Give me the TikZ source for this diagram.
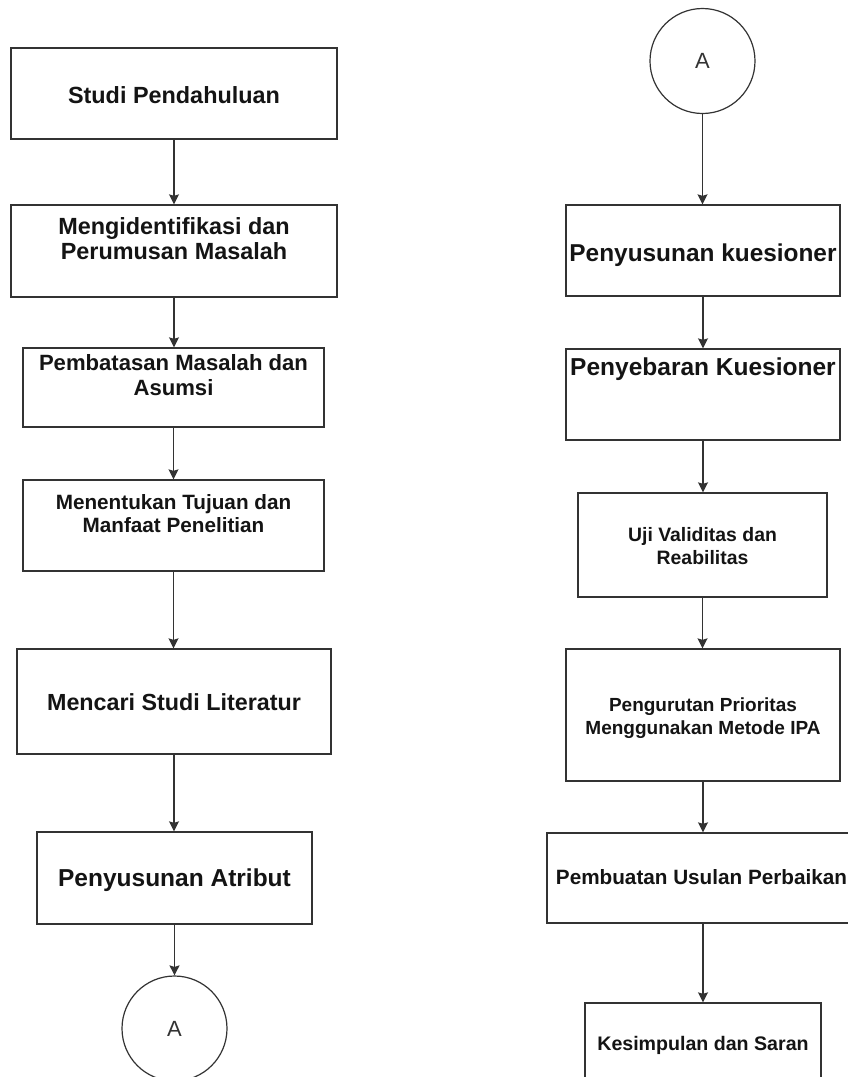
\documentclass[tikz,border=0pt]{standalone}
\usepackage{fontspec}
\setmainfont{Liberation Sans}
\usetikzlibrary{arrows.meta}
\definecolor{linegray}{HTML}{333333}
\definecolor{textblack}{HTML}{141414}
\newcommand\tsz[2]{\fontsize{#1}{#2}\selectfont\bfseries}
\begin{document}
\begin{tikzpicture}[x=1pt,y=-1pt,
  box/.style={draw=linegray, line width=1.3pt, rectangle, inner sep=0pt, fill=white},
  lbl/.style={inner sep=0pt, align=center, text=textblack},
  conn/.style={circle, draw=linegray, line width=1.2pt, inner sep=0pt, minimum size=105pt, fill=white},
  arr/.style={draw=linegray, line width=1.3pt, -{Stealth[length=10pt,width=10pt,inset=1.5pt]}},
]
\useasboundingbox (0,0) rectangle (848,1077);
\clip (0,0) rectangle (848,1077);
\fill[white] (0,0) rectangle (848,1077);

% left column
\node[box, minimum width=326pt, minimum height=91pt] (b1) at (174,93.5) {};
\node[box, minimum width=326pt, minimum height=92pt] (b2) at (174,251) {};
\node[box, minimum width=301pt, minimum height=79pt] (b3) at (173.5,387.5) {};
\node[box, minimum width=301pt, minimum height=91pt] (b4) at (173.5,525.5) {};
\node[box, minimum width=314pt, minimum height=105pt] (b5) at (174,701.5) {};
\node[box, minimum width=275pt, minimum height=92pt] (b6) at (174.5,878) {};
\node[conn] (cl) at (174.5,1028.5) {};

\node[lbl, font=\tsz{23.4}{25}] (t1) at (174,95) {Studi Pendahuluan};
\node[lbl, font=\tsz{23.4}{25}] (t2) at (174,238.5) {Mengidentifikasi dan\\Perumusan Masalah};
\node[lbl, font=\tsz{22.1}{25}] (t3) at (173.5,375.5) {Pembatasan Masalah dan\\Asumsi};
\node[lbl, font=\tsz{20.7}{23}] (t4) at (173.5,513.5) {Menentukan Tujuan dan\\Manfaat Penelitian};
\node[lbl, font=\tsz{23.3}{25}] (t5) at (174,702) {Mencari Studi Literatur};
\node[lbl, font=\tsz{24.5}{26}] (t6) at (174.5,880.5) {Penyusunan Atribut};
\node[inner sep=0pt, text=linegray, font=\fontsize{22}{24}\selectfont] (tA1) at (174.5,1028.5) {A};

% right column
\node[conn] (cr) at (702.5,61) {};
\node[inner sep=0pt, text=linegray, font=\fontsize{22}{24}\selectfont] (tA2) at (702.5,61) {A};
\node[box, minimum width=274pt, minimum height=91pt] (r1) at (703,250.5) {};
\node[box, minimum width=274pt, minimum height=91pt] (r2) at (703,394.5) {};
\node[box, minimum width=249pt, minimum height=104pt] (r3) at (702.5,545) {};
\node[box, minimum width=274pt, minimum height=132pt] (r4) at (703,715) {};
\node[box, minimum width=312pt, minimum height=90pt] (r5) at (703,878) {};
\node[box, minimum width=236pt, minimum height=120pt] (r6) at (703,1063) {};

\node[lbl, font=\tsz{24.4}{26}] (s1) at (703,255.5) {Penyusunan kuesioner};
\node[lbl, font=\tsz{24.5}{26}] (s2) at (703,369.5) {Penyebaran Kuesioner};
\node[lbl, font=\tsz{19.4}{23}] (s3) at (702.5,546.5) {Uji Validitas dan\\Reabilitas};
\node[lbl, font=\tsz{19}{23}] (s4) at (703,718.5) {Pengurutan Prioritas\\Menggunakan Metode IPA};
\node[lbl, font=\tsz{20.7}{23}] (s5) at (701.5,877) {Pembuatan Usulan Perbaikan};
\node[lbl, font=\tsz{19.6}{22}] (s6) at (703,1045) {Kesimpulan dan Saran};

% connectors
\draw[arr] (b1.south) -- (b1.south |- b2.north);
\draw[arr] (b2.south) -- (b2.south |- b3.north);
\draw[arr] (b3.south) -- (b3.south |- b4.north);
\draw[arr] (b4.south) -- (b4.south |- b5.north);
\draw[arr] (b5.south) -- (b5.south |- b6.north);
\draw[arr] (b6.south) -- (b6.south |- cl.north);

\draw[arr] (cr.south) -- (cr.south |- r1.north);
\draw[arr] (r1.south) -- (r1.south |- r2.north);
\draw[arr] (r2.south) -- (r2.south |- r3.north);
\draw[arr] (r3.south) -- (r3.south |- r4.north);
\draw[arr] (r4.south) -- (r4.south |- r5.north);
\draw[arr] (r5.south) -- (r5.south |- r6.north);
\end{tikzpicture}
\end{document}
